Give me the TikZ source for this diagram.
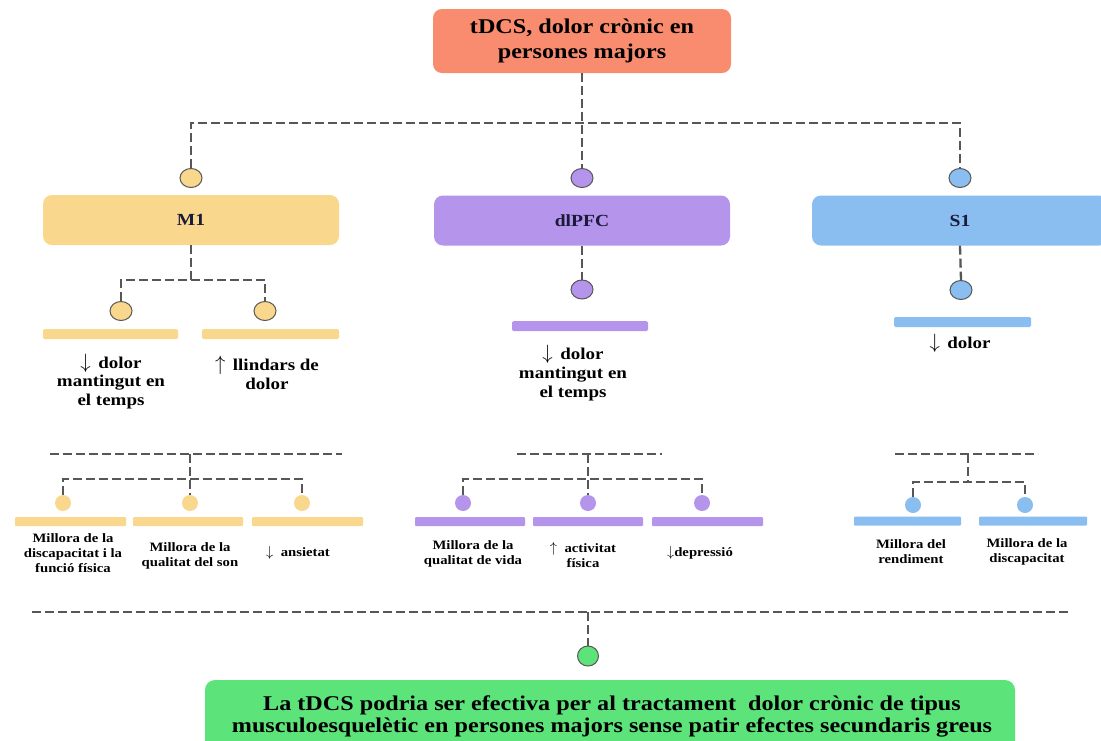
\documentclass[tikz,border=0pt]{standalone}
\usepackage{fontspec}
\setmainfont{Liberation Serif}[FakeStretch=1.15]
\usetikzlibrary{shapes.geometric}
\definecolor{csalmon}{HTML}{F98C6F}
\definecolor{cyel}{HTML}{F9D88E}
\definecolor{cpur}{HTML}{B594EC}
\definecolor{cblu}{HTML}{8ABDF0}
\definecolor{cgrn}{HTML}{5CE47B}
\definecolor{dgray}{HTML}{575757}
\definecolor{navy}{HTML}{1A1A3A}
\newcommand\arrdn{\scalebox{1.2}{$\downarrow$}}
\newcommand\arrup{\scalebox{1.2}{$\uparrow$}}
\tikzset{
  conn/.style={draw=dgray, line width=2.3pt, dash pattern=on 9pt off 4pt},
  conns/.style={draw=dgray, line width=2pt, dash pattern=on 9pt off 4pt},
  bigbox/.style={rounded corners=9pt, minimum width=296pt, minimum height=50pt, inner sep=0pt,
    font=\bfseries\fontsize{17}{20}\selectfont, text=navy},
  dot/.style={ellipse, draw=dgray, line width=1pt, minimum width=22pt, minimum height=19pt, inner sep=0pt},
  sdot/.style={ellipse, minimum width=16pt, minimum height=16pt, inner sep=0pt},
  bar/.style={rectangle, minimum height=10pt, inner sep=0pt, rounded corners=1.5pt},
  sbar/.style={rectangle, minimum height=9pt, inner sep=0pt, rounded corners=1pt},
  lbl/.style={align=center, inner sep=0pt, font=\bfseries\fontsize{16.5}{18.8}\selectfont},
  slbl/.style={align=center, inner sep=0pt, font=\bfseries\fontsize{12.8}{15}\selectfont},
}
\begin{document}
\begin{tikzpicture}[x=1pt,y=-1pt]
\useasboundingbox (0,0) rectangle (1101,740);
\fill[white] (0,0) rectangle (1101,740);

% top
\node[fill=csalmon, rounded corners=9pt, minimum width=298pt, minimum height=64pt, inner sep=0pt,
  align=center, font=\bfseries\fontsize{21}{25}\selectfont] (top) at (582,41) {tDCS, dolor crònic en\\persones majors};

% first level circles and boxes
\node[dot, fill=cyel] (cM) at (191,178) {};
\node[dot, fill=cpur] (cD) at (582,178) {};
\node[dot, fill=cblu] (cS) at (960,178) {};
\node[bigbox, fill=cyel] (bM) at (191,220) {M1};
\node[bigbox, fill=cpur] (bD) at (582,220.5) {dlPFC};
\node[bigbox, fill=cblu] (bS) at (960,220.5) {S1};

\coordinate (jM) at (191,123);
\coordinate (jS) at (960,123);
\draw[conn] (top.south) -- (cD.north);
\draw[conn] (cM.north) -- (jM) -- (jS) -- (cS.north);

% M1 second level
\node[dot, fill=cyel] (cM1) at (121,311) {};
\node[dot, fill=cyel] (cM2) at (265,311) {};
\coordinate (jM2) at (191,280);
\draw[conn] (bM.south) -- (jM2);
\draw[conn] (cM1.north) |- (jM2) -| (cM2.north);
\node[bar, fill=cyel, minimum width=135pt] (barM1) at (110.5,334) {};
\node[bar, fill=cyel, minimum width=137pt] (barM2) at (270.5,334) {};
\node[lbl] (tM1) at (111,381.5) {\arrdn\hspace{0.45em}dolor\\mantingut en\\el temps};
\node[lbl] (tM2) at (267,372.5) {\arrup\hspace{0.45em}llindars de\\dolor};

% dlPFC second level
\node[dot, fill=cpur] (cD1) at (582,289.5) {};
\draw[conn] (bD.south) -- (cD1.north);
\node[bar, fill=cpur, minimum width=136pt] (barD1) at (580,326) {};
\node[lbl] (tD1) at (573,373) {\arrdn\hspace{0.45em}dolor\\mantingut en\\el temps};

% S1 second level
\node[dot, fill=cblu] (cS1) at (961,290) {};
\draw[conn] (bS.south) -- (cS1.north);
\node[bar, fill=cblu, minimum width=137pt] (barS1) at (962.5,322) {};
\node[lbl] (tS1) at (960,343) {\arrdn\hspace{0.45em}dolor};

% M1 third level
\coordinate (lM) at (50,454);
\coordinate (rM) at (342,454);
\coordinate (kM) at (190,454);
\coordinate (hM) at (190,479);
\draw[conns] (lM) -- (rM);
\node[sdot, fill=cyel] (c3M1) at (63,503) {};
\node[sdot, fill=cyel] (c3M2) at (190,503) {};
\node[sdot, fill=cyel] (c3M3) at (302,503) {};
\draw[conns] (kM) -- (c3M2.north);
\draw[conns] (c3M1.north) |- (hM) -| (c3M3.north);
\node[sbar, fill=cyel, minimum width=111pt] (b3M1) at (70.5,521.5) {};
\node[sbar, fill=cyel, minimum width=110pt] (b3M2) at (188,521.5) {};
\node[sbar, fill=cyel, minimum width=111pt] (b3M3) at (307.5,521.5) {};
\node[slbl] (t3M1) at (73,553) {Millora de la\\discapacitat i la\\funció física};
\node[slbl] (t3M2) at (190,555.5) {Millora de la\\qualitat del son};
\node[slbl] (t3M3) at (298,553) {\arrdn\ \ ansietat};

% dlPFC third level
\coordinate (lD) at (517,454);
\coordinate (rD) at (662,454);
\coordinate (kD) at (588,454);
\coordinate (hD) at (588,479);
\draw[conns] (lD) -- (rD);
\node[sdot, fill=cpur] (c3D1) at (463,503) {};
\node[sdot, fill=cpur] (c3D2) at (588,503) {};
\node[sdot, fill=cpur] (c3D3) at (702,503) {};
\draw[conns] (kD) -- (c3D2.north);
\draw[conns] (c3D1.north) |- (hD) -| (c3D3.north);
\node[sbar, fill=cpur, minimum width=110pt] (b3D1) at (470,521.5) {};
\node[sbar, fill=cpur, minimum width=110pt] (b3D2) at (588,521.5) {};
\node[sbar, fill=cpur, minimum width=111pt] (b3D3) at (707.5,521.5) {};
\node[slbl] (t3D1) at (473,553.5) {Millora de la\\qualitat de vida};
\node[slbl] (t3D2) at (583,555) {\arrup\ \ activitat\\física};
\node[slbl] (t3D3) at (700,553) {\arrdn depressió};

% S1 third level
\coordinate (lS) at (895,454);
\coordinate (rS) at (1038,454);
\coordinate (kS) at (968,454);
\coordinate (hS) at (968,482);
\draw[conns] (lS) -- (rS);
\draw[conns] (kS) -- (hS);
\node[sdot, fill=cblu] (c3S1) at (913,505) {};
\node[sdot, fill=cblu] (c3S2) at (1025,505) {};
\draw[conns] (c3S1.north) |- (hS) -| (c3S2.north);
\node[sbar, fill=cblu, minimum width=107pt] (b3S1) at (907.5,521) {};
\node[sbar, fill=cblu, minimum width=108pt] (b3S2) at (1033,521) {};
\node[slbl] (t3S1) at (911,552) {Millora del\\rendiment};
\node[slbl] (t3S2) at (1027,552) {Millora de la\\discapacitat};

% bottom
\coordinate (lB) at (32,612);
\coordinate (rB) at (1070,612);
\coordinate (kB) at (588,612);
\draw[conns] (lB) -- (rB);
\node[ellipse, draw=dgray, line width=1pt, fill=cgrn, minimum width=21pt, minimum height=20pt, inner sep=0pt] (cG) at (588,656) {};
\draw[conns] (kB) -- (cG.north);
\node[fill=cgrn, rounded corners=10pt, minimum width=810pt, minimum height=72pt, inner sep=0pt] (gbox) at (610,716) {};
\node[align=center, inner sep=0pt, font=\bfseries\fontsize{21}{22}\selectfont] (gtxt) at (612,716)
  {La tDCS podria ser efectiva per al tractament\ \ dolor crònic de tipus\\musculoesquelètic en persones majors sense patir efectes secundaris greus};
\end{tikzpicture}
\end{document}
